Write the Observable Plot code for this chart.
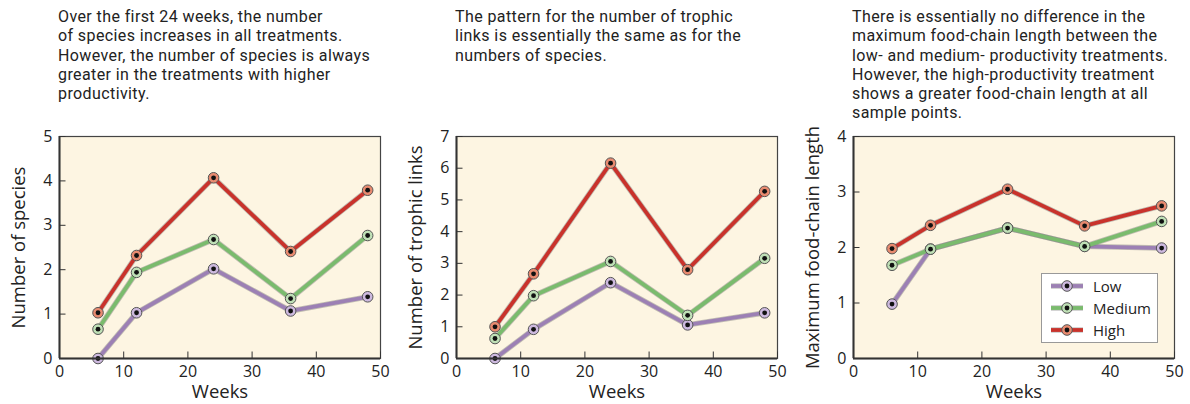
<!DOCTYPE html>
<html><head><meta charset="utf-8">
<script src="https://cdn.jsdelivr.net/npm/d3@7"></script>
<script src="https://cdn.jsdelivr.net/npm/@observablehq/plot@0.6"></script>
<style>
body{margin:0;background:#fff;font-family:"Open Sans",sans-serif;}
#root{position:relative;width:1190px;height:404px;overflow:hidden;}
.panel{position:absolute;top:0;width:397px;height:404px;}
.cap{position:absolute;left:58px;top:7px;font-family:Roboto,sans-serif;font-size:16px;letter-spacing:0.4px;line-height:19.3px;color:#222;white-space:nowrap;}
.chart{position:absolute;left:0;top:120px;}
.legend{position:absolute;left:247px;top:273px;width:117px;height:70px;background:#fff;border:1px solid #999;box-sizing:border-box;padding-top:1px;}
.legend .row{display:flex;align-items:center;height:22px;font-size:15px;color:#222;}
.legend svg{margin-left:8px;margin-right:9px;}
</style></head><body><div id="root"></div>
<script>
const weeks = [6, 12, 24, 36, 48];
const treatments = ["Low", "Medium", "High"];
const lineColors = ["#9c80b4", "#7abb6d", "#c9322b"];
const dotColors = ["#cdb9df", "#bfe0b6", "#e98a6f"];
const xTicks = [0, 10, 20, 30, 40, 50];

// Panel 1: number of species
const speciesLow = [0, 1.03, 2.02, 1.07, 1.39];
const speciesMedium = [0.66, 1.94, 2.68, 1.35, 2.77];
const speciesHigh = [1.03, 2.32, 4.07, 2.41, 3.79];
const speciesTicks = [0, 1, 2, 3, 4, 5];

// Panel 2: number of trophic links
const linksLow = [0, 0.92, 2.39, 1.06, 1.44];
const linksMedium = [0.63, 1.98, 3.06, 1.36, 3.16];
const linksHigh = [1.0, 2.67, 6.16, 2.80, 5.27];
const linksTicks = [0, 1, 2, 3, 4, 5, 6, 7];

// Panel 3: maximum food-chain length
const chainLow = [0.98, 1.97, 2.35, 2.02, 1.99];
const chainMedium = [1.68, 1.97, 2.35, 2.02, 2.47];
const chainHigh = [1.98, 2.40, 3.05, 2.39, 2.75];
const chainTicks = [0, 1, 2, 3, 4];

const captions = [
  ["Over the first 24 weeks, the number", "of species increases in all treatments.", "However, the number of species is always", "greater in the treatments with higher", "productivity."],
  ["The pattern for the number of trophic", "links is essentially the same as for the", "numbers of species."],
  ["There is essentially no difference in the", "maximum food-chain length between the", "low- and medium- productivity treatments.", "However, the high-productivity treatment", "shows a greater food-chain length at all", "sample points."]
];
const yLabels = ["Number of species", "Number of trophic links", "Maximum food-chain length"];
const xLabel = "Weeks";

const panels = [
  {series: [speciesLow, speciesMedium, speciesHigh], ticks: speciesTicks},
  {series: [linksLow, linksMedium, linksHigh], ticks: linksTicks},
  {series: [chainLow, chainMedium, chainHigh], ticks: chainTicks}
];

const root = document.getElementById("root");

panels.forEach((p, i) => {
  const div = document.createElement("div");
  div.className = "panel";
  div.style.left = (i * 397) + "px";
  const cap = document.createElement("div");
  cap.className = "cap";
  cap.innerHTML = captions[i].join("<br>");
  div.appendChild(cap);

  const marks = [Plot.frame({fill: "#fdf5e2"})];
  treatments.forEach((t, ti) => {
    const data = weeks.map((w, wi) => ({t, week: w, value: p.series[ti][wi]}));
    marks.push(
      Plot.line(data, {x: "week", y: "value", stroke: "#777", strokeWidth: 5.4, strokeOpacity: 0.45}),
      Plot.line(data, {x: "week", y: "value", stroke: lineColors[ti], strokeWidth: 3.8}),
      Plot.dot(data, {x: "week", y: "value", r: 5.3, fill: dotColors[ti], stroke: "#555", strokeWidth: 1}),
      Plot.dot(data, {x: "week", y: "value", r: 2.4, fill: "#111", stroke: "none"})
    );
  });
  marks.push(
    Plot.frame({stroke: "#444", strokeWidth: 1.2}),
    Plot.ruleX([0], {stroke: "#333", strokeWidth: 2}),
    Plot.ruleY([0], {stroke: "#333", strokeWidth: 2}),
    Plot.axisX(xTicks, {tickSize: -6.5, tickPadding: 13.5, fontSize: 16, label: null, stroke: "#333", fill: "#222", tickFormat: d3.format("d")}),
    Plot.axisY(p.ticks, {tickSize: -6.5, tickPadding: 13.5, fontSize: 16, label: null, stroke: "#333", fill: "#222", tickFormat: d3.format("d")}),
    Plot.text([yLabels[i]], {frameAnchor: "left", textAnchor: "middle", lineAnchor: "middle", dx: -40, rotate: -90, fontSize: 18.5, fill: "#222"}),
    Plot.text([xLabel], {frameAnchor: "bottom", textAnchor: "middle", lineAnchor: "middle", dy: 34, fontSize: 18.5, fill: "#222"})
  );

  const chart = Plot.plot({
    width: 397, height: 284,
    marginTop: 16, marginBottom: 46, marginLeft: 59, marginRight: 17,
    style: {fontFamily: "'Open Sans', sans-serif", background: "transparent", overflow: "visible", color: "#222"},
    x: {domain: [0, 50]},
    y: {domain: [0, p.ticks[p.ticks.length - 1]]},
    marks
  });
  chart.classList.add("chart");
  div.appendChild(chart);

  if (i === 2) {
    const leg = document.createElement("div");
    leg.className = "legend";
    treatments.forEach((t, ti) => {
      const row = document.createElement("div");
      row.className = "row";
      row.innerHTML = `<svg width="34" height="12"><line x1="1" y1="6" x2="33" y2="6" stroke="#777" stroke-opacity="0.45" stroke-width="5.4"/><line x1="1" y1="6" x2="33" y2="6" stroke="${lineColors[ti]}" stroke-width="3.8"/><circle cx="17" cy="6" r="5.3" fill="${dotColors[ti]}" stroke="#555"/><circle cx="17" cy="6" r="2.4" fill="#111"/></svg><span>${t}</span>`;
      leg.appendChild(row);
    });
    div.appendChild(leg);
  }
  root.appendChild(div);
});
</script></body></html>
